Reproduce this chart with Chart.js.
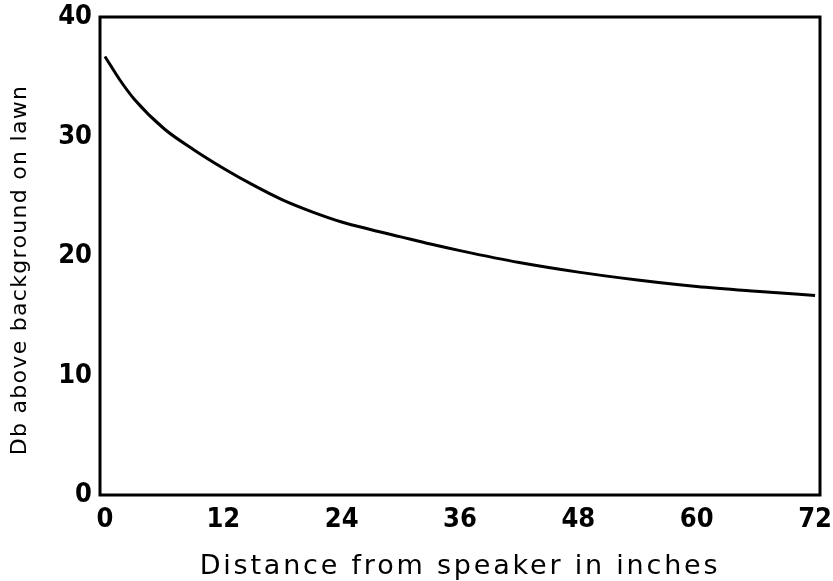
<!DOCTYPE html>
<html>
<head>
<meta charset="utf-8">
<script src="https://cdn.jsdelivr.net/npm/chart.js@4/dist/chart.umd.min.js"></script>
<style>
  html, body { margin: 0; padding: 0; background: #ffffff; }
  #wrap { width: 833px; height: 581px; position: relative; }
</style>
</head>
<body>
<div id="wrap"><canvas id="c" width="833" height="581"></canvas></div>
<script>
// Distance from speaker (inches)
const distances = [0, 1.5, 3, 6, 9, 12, 15, 18, 21, 24, 27, 30, 33, 36, 42, 48, 54, 60, 66, 72];
// Db above background on lawn
const dbValues = [36.7, 34.75, 33.1, 30.65, 28.9, 27.35, 25.95, 24.7, 23.7, 22.85, 22.2, 21.6, 21.0, 20.45, 19.45, 18.65, 18.0, 17.45, 17.05, 16.7];
const xTicks = [0, 12, 24, 36, 48, 60, 72];
const yTicks = [0, 10, 20, 30, 40];
const xTitle = 'Distance from speaker in inches';
const yTitle = 'Db above background on lawn';

const points = distances.map((d, i) => ({ x: d, y: dbValues[i] }));

const framePlugin = {
  id: 'frame',
  beforeDraw(chart) {
    // widen the axis titles with letter spacing (and nudge them into place)
    for (const [id, sp, dx, dy] of [['x', '2.8px', 0, 4], ['y', '1.3px', 0, 14]]) {
      const s = chart.scales[id];
      if (s && !s._spaced) {
        const orig = s.drawTitle.bind(s);
        s.drawTitle = function () {
          const c = this.ctx;
          c.save();
          c.translate(dx, dy);
          c.letterSpacing = sp;
          orig();
          c.letterSpacing = '0px';
          c.restore();
        };
        s._spaced = true;
      }
    }
  },
  afterDraw(chart) {
    const { ctx, chartArea: a } = chart;
    ctx.save();
    ctx.strokeStyle = '#000';
    ctx.lineWidth = 3;
    ctx.strokeRect(a.left, a.top, a.right - a.left, a.bottom - a.top);
    ctx.restore();
  }
};

const tickFont = { family: '"DejaVu Sans Condensed", "DejaVu Sans", sans-serif', size: 27, weight: 'bold' };

function zeroPad(s) { s.paddingTop = 0; s.paddingRight = 0; s.paddingLeft = 0; s.paddingBottom = 0; }

new Chart(document.getElementById('c'), {
  type: 'line',
  data: {
    datasets: [{
      data: points,
      borderColor: '#000',
      borderWidth: 3,
      pointRadius: 0,
      fill: false,
      cubicInterpolationMode: 'monotone'
    }]
  },
  options: {
    responsive: false,
    animation: false,
    devicePixelRatio: 1,
    layout: { padding: { left: 0, top: 17, right: 13, bottom: 0 } },
    plugins: { legend: { display: false }, tooltip: { enabled: false } },
    scales: {
      x: {
        type: 'linear',
        min: -0.5,
        max: 72.5,
        afterBuildTicks(s) { s.ticks = xTicks.map(v => ({ value: v })); },
        afterFit(s) { s.height = 86; zeroPad(s); },
        grid: { display: false, drawTicks: false },
        border: { display: false },
        ticks: { color: '#000', font: tickFont, padding: 9, maxRotation: 0, autoSkip: false, callback: v => String(v) },
        title: { display: true, text: xTitle, color: '#000', padding: { top: 0, bottom: 2 },
                 font: { family: '"DejaVu Sans", sans-serif', size: 27 } }
      },
      y: {
        type: 'linear',
        min: 0,
        max: 40,
        afterBuildTicks(s) { s.ticks = yTicks.map(v => ({ value: v })); },
        afterFit(s) { s.width = 100; zeroPad(s); },
        grid: { display: false, drawTicks: false },
        border: { display: false },
        ticks: { color: '#000', font: tickFont, padding: 8, callback: v => String(v) },
        title: { display: true, text: yTitle, color: '#000', padding: { top: 7, bottom: 0 },
                 font: { family: '"DejaVu Sans", sans-serif', size: 22 } }
      }
    }
  },
  plugins: [framePlugin]
});
</script>
</body>
</html>
